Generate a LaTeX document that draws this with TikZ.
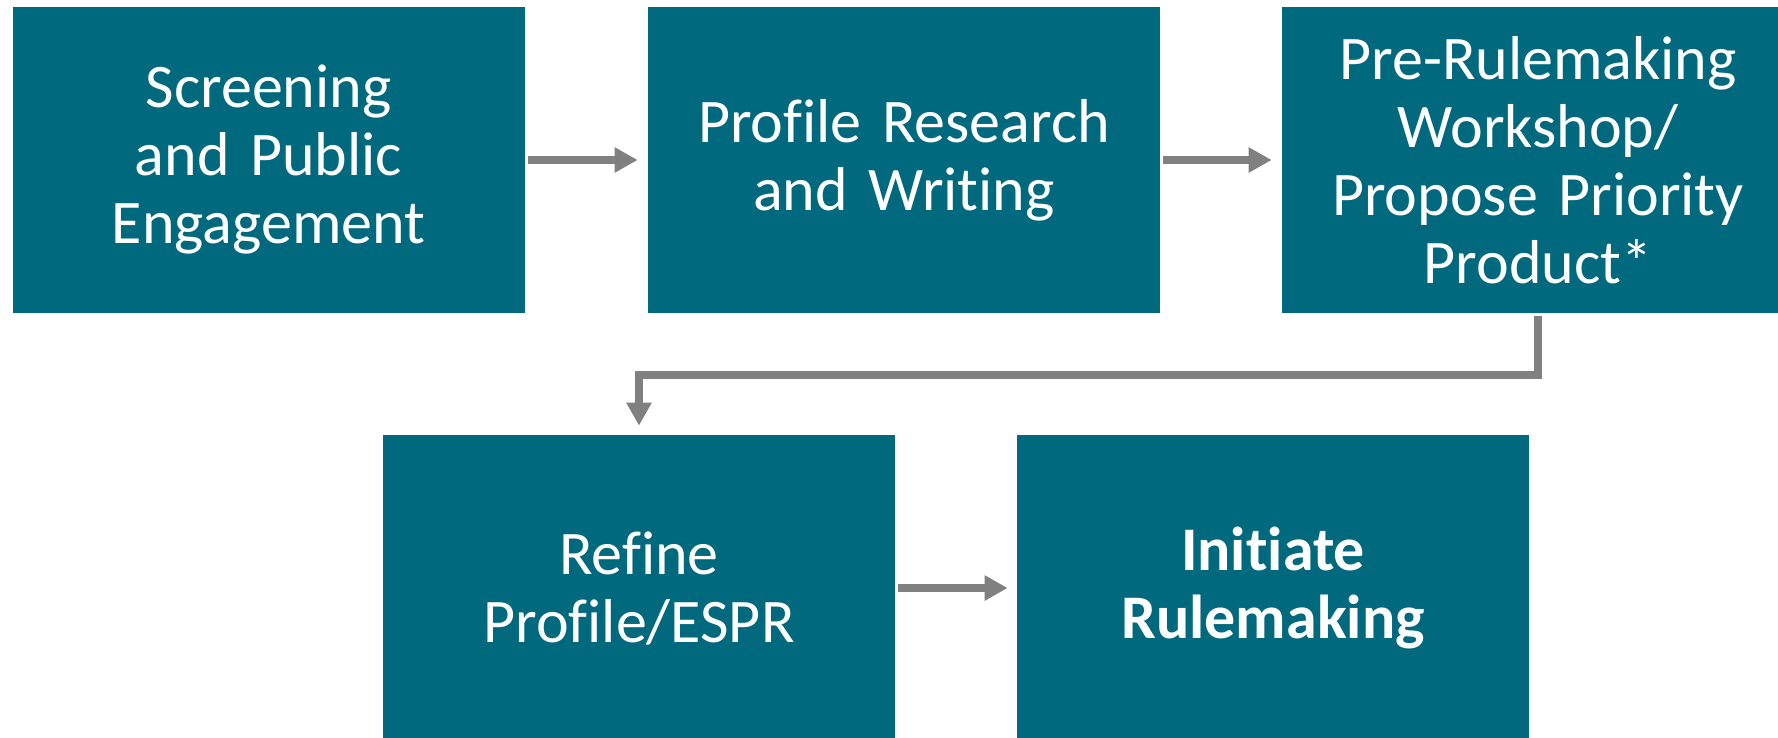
\documentclass[tikz,border=0pt]{standalone}
\usepackage{fontspec}
\setmainfont{Carlito}[Ligatures={NoCommon}]
\usetikzlibrary{arrows.meta}
\definecolor{stepteal}{RGB}{0,105,125}
\definecolor{flowgray}{RGB}{128,128,128}

\begin{document}
\begin{tikzpicture}[x=0.5pt,y=-0.5pt,
  box/.style={fill=stepteal,text=white,minimum width=256pt,minimum height=153pt,
    inner sep=0pt,text width=250pt,align=center,
    font=\fontsize{31pt}{34pt}\selectfont},
  flow/.style={draw=flowgray,line width=4pt,
    -{Triangle[length=11.5pt,width=12pt]}}]
\useasboundingbox (0,0) rectangle (1778,738);
            % Boxes
\node[box] (scr)  at (268.5,160) {Screening\\and Public\\Engagement};
\node[box] (prof) at (904,160)   {Profile Research\\and Writing};
\node[box] (pre)  at (1538,160)  {Pre-Rulemaking\\Workshop/\\Propose Priority\\Product*};
\node[box] (ref)  at (639,588)   {Refine\\Profile/ESPR};
\node[box] (init) at (1273,588)  {\textbf{Initiate}\\\textbf{Rulemaking}};
%Arrows
\draw[flow,shorten <=1.5pt,shorten >=5pt] (scr)  -- (prof);
\draw[flow,shorten <=1.5pt,shorten >=5pt] (prof) -- (pre);
\draw[flow,shorten <=1.5pt,shorten >=4.5pt] (pre.south) -- ++(0,62) -| (ref.north);
\draw[flow,shorten <=1.5pt,shorten >=4.5pt] (ref)  -- (init);

\end{tikzpicture}
\end{document}
